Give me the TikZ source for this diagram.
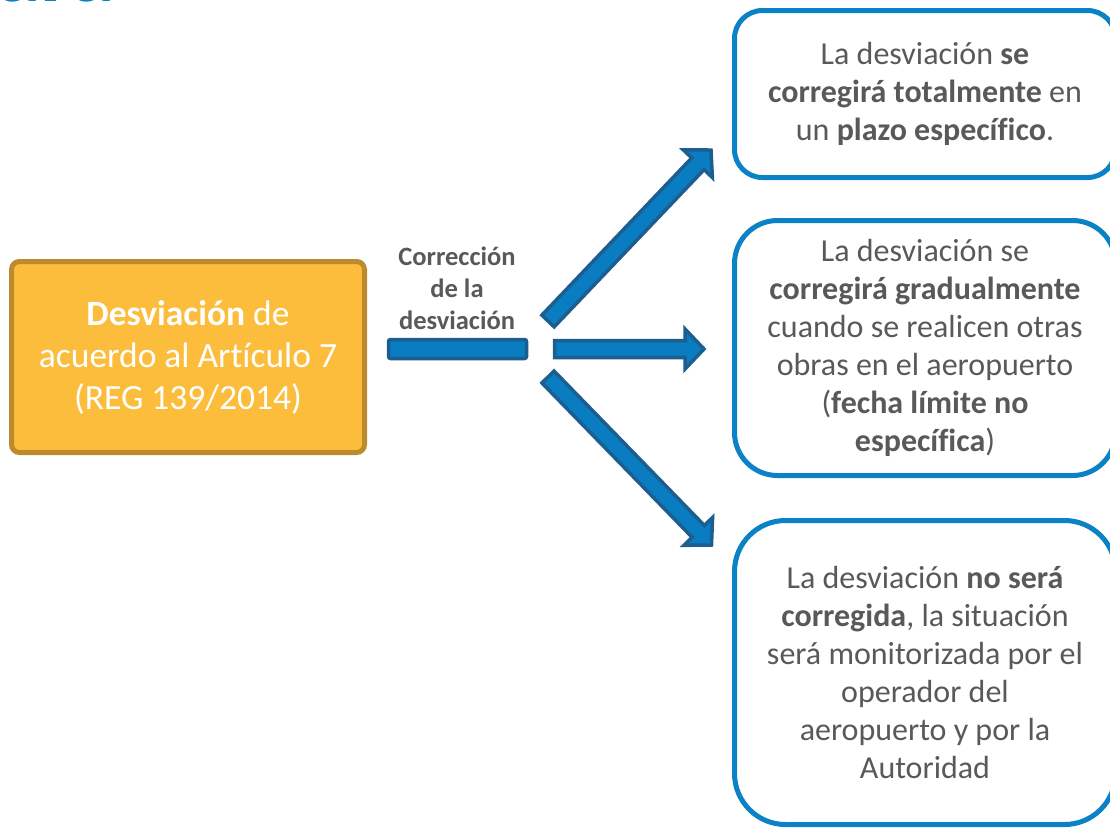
\documentclass[tikz,border=0pt]{standalone}
\usepackage{fontspec}
\setmainfont{Carlito}[Ligatures = NoCommon]
\usetikzlibrary{calc}

\definecolor{boxblue}{HTML}{0A82C5}
\definecolor{arrowfill}{HTML}{0A7CC1}
\definecolor{arrowline}{HTML}{1C5E90}
\definecolor{devfill}{HTML}{FBBD3B}
\definecolor{devline}{HTML}{BD8B2D}
\definecolor{textgrey}{HTML}{595959}

\tikzset{
    devbox/.style = {draw = devline, fill = devfill, line width = 5pt, rounded corners = 8pt,
        align = center, text = white, font = \fontsize{35.5}{42}\selectfont},
    optionbox/.style = {draw = boxblue, fill = white, line width = 5pt, minimum width = 381pt,
        align = center, text = textgrey, font = \fontsize{32}{38}\selectfont},
    arrowbody/.style = {draw = arrowline, fill = arrowfill, line width = 3.5pt, line join = miter}
}

% Block arrow from #1 to #2, with #3 the centre of the head's base.
\newcommand{\blockarrow}[3]{%
    \coordinate (#3) at ($(#2)!19pt!(#1)$);
    \draw [arrowbody] ($(#1)!8.5pt!90:(#2)$) to ($(#3)!8.5pt!90:(#2)$) to ($(#3)!20pt!90:(#2)$)
        to (#2) to ($(#3)!20pt!-90:(#2)$) to ($(#3)!8.5pt!-90:(#2)$) to ($(#1)!8.5pt!-90:(#2)$) to cycle;
}

\begin{document}
\begin{tikzpicture}[x = 1pt, y = -1pt]

        \useasboundingbox (0, 0) rectangle (1110, 828);
        \clip (0, 0) rectangle (1110, 828);

        % What is left of the slide title.
        \node (title) at (-4, 1) [anchor = base west, inner sep = 0pt, text = boxblue,
            font = \bfseries\fontsize{90}{90}\selectfont] {ara};

        % The deviation on the left.
        \node (dev) at (188, 357) [devbox, minimum width = 353pt, minimum height = 191pt]
            {\textbf{Desviación} de\\acuerdo al Artículo 7\\(REG 139/2014)};

        % The three outcomes on the right.
        \node (total) at (925, 94) [optionbox, minimum height = 167pt, rounded corners = 28pt]
            {La desviación \textbf{se}\\\textbf{corregirá totalmente} en\\un \textbf{plazo específico}.};
        \node (gradual) at (925, 348) [optionbox, minimum height = 255pt, rounded corners = 43pt]
            {La desviación se\\\textbf{corregirá gradualmente}\\cuando se realicen otras\\obras en el aeropuerto\\(\textbf{fecha límite no}\\\textbf{específica})};
        \node (none) at (925, 672.5) [optionbox, minimum height = 304pt, rounded corners = 51pt]
            {La desviación \textbf{no será}\\\textbf{corregida}, la situación\\será monitorizada por el\\operador del\\aeropuerto y por la\\Autoridad};

        % Label above the bar.
        \node (corr) at (457, 288) [align = center, text = textgrey,
            font = \bfseries\fontsize{26.5}{32}\selectfont] {Corrección\\de la\\desviación};

        % Positions for the bar and the arrow ends.
        \coordinate (barL) at (388.5, 339.5);
        \coordinate (barR) at (526.5, 358.5);
        \coordinate (tailU) at (548, 321);
        \coordinate (tipU) at (711, 150);
        \coordinate (tailM) at (554.5, 349);
        \coordinate (tipM) at (704, 349);
        \coordinate (tailD) at (548, 377);
        \coordinate (tipD) at (711.5, 545);

        % Draw the bar.
        \draw [arrowbody, rounded corners = 2pt] (barL) rectangle (barR);

        % Draw the three arrows.
        \blockarrow{tailU}{tipU}{headU}
        \blockarrow{tailM}{tipM}{headM}
        \blockarrow{tailD}{tipD}{headD}
    \end{tikzpicture}
\end{document}
